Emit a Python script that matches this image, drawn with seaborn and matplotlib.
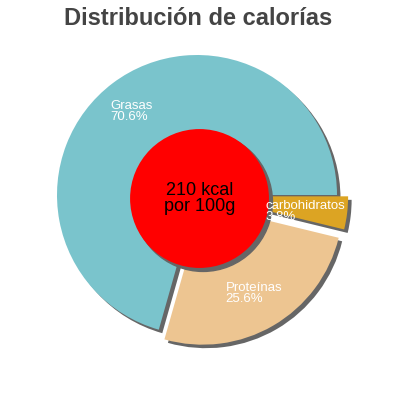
import matplotlib
matplotlib.use("Agg")
import matplotlib.pyplot as plt
import matplotlib.patches as mpatches
import seaborn as sns

# data
categories = ["Grasas", "Proteínas", "carbohidratos"]
percent = [70.6, 25.6, 3.8]
colors = ["#7ac4cc", "#edc591", "#dca423"]
explode = [0, 0.08, 0.08]
center_lines = ["210 kcal", "por 100g"]
title = "Distribución de calorías"

# label anchor points (left edge, in pie units)
label_pos = [(-0.616, 0.597), (0.205, -0.704), (0.486, -0.121)]

sns.set_theme(style="white")
plt.rcParams["font.family"] = ["Liberation Sans", "DejaVu Sans"]

fig = plt.figure(figsize=(4, 4), dpi=100)
ax = fig.add_axes([0, 0, 1, 1])

# Shadow offsets end up in data units (scaled by dpi/72)
sh = 0.018
shadow = {"ox": sh, "oy": -sh, "facecolor": "#666666",
          "edgecolor": "#666666", "alpha": 1}
wedges, _ = ax.pie(percent, colors=colors, explode=explode, startangle=0,
                   counterclock=True, radius=1, shadow=shadow,
                   wedgeprops={"linewidth": 0})

for name, p, (x, y) in zip(categories, percent, label_pos):
    ax.text(x, y, f"{name}\n{p}%", color="white", fontsize=9.5,
            ha="left", va="center", linespacing=0.9, zorder=5)

# red centre disc with its shadow
cx, cy = 0.018, -0.025
disc = mpatches.Circle((cx, cy), 0.496, facecolor="red", edgecolor="none", zorder=3)
ax.add_patch(disc)
ax.add_patch(mpatches.Shadow(disc, sh, -sh, facecolor="#666666",
                             edgecolor="#666666", alpha=1))
ax.text(cx, cy, "\n".join(center_lines), ha="center", va="center",
        fontsize=13, color="black", linespacing=0.95, zorder=6)

ax.set_xlim(-197 / 140, 203 / 140)
ax.set_ylim(-205 / 140, 195 / 140)
ax.set_aspect("equal")
ax.axis("off")

fig.text(0.495, 1 - 25 / 400, title, ha="center", va="baseline",
         fontsize=17, fontweight="bold", color="#444444")

fig.savefig("out.png", dpi=100)
